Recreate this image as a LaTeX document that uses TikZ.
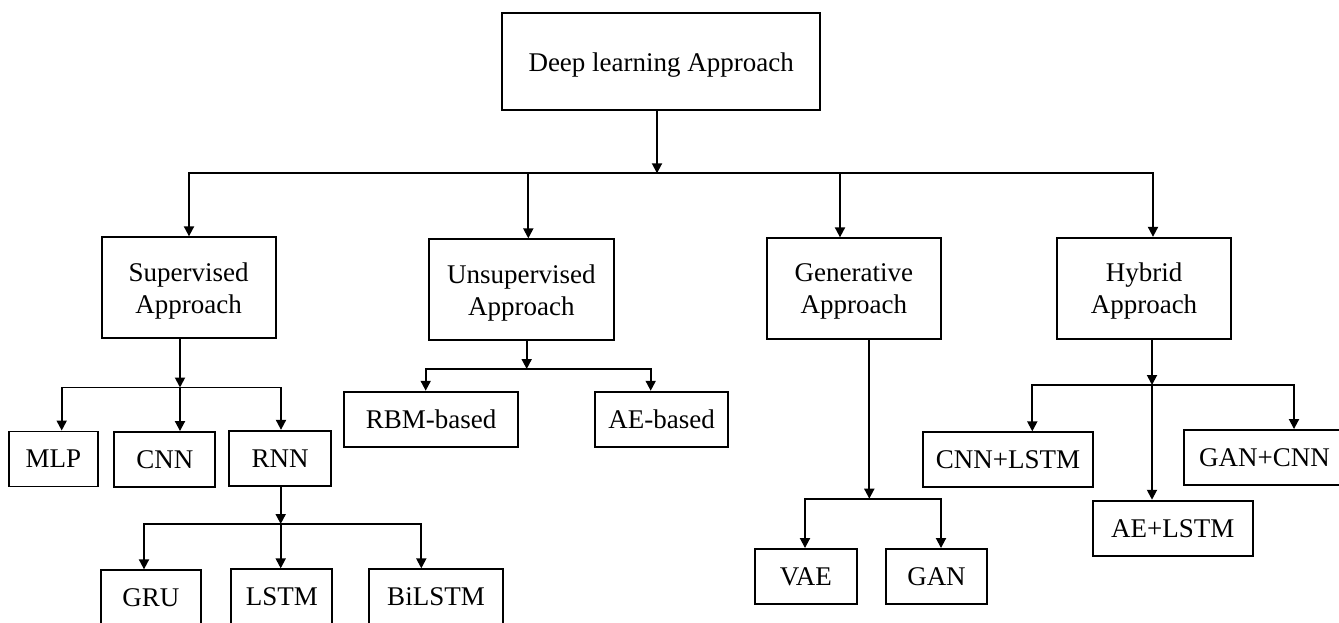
\documentclass[tikz,border=0pt]{standalone}
\usepackage{fontspec}
\setmainfont{Liberation Serif}
\usetikzlibrary{arrows.meta}
\begin{document}
\begin{tikzpicture}[x=1pt,y=-1pt,
  every node/.style={font=\fontsize{27}{32}\selectfont},
  box/.style={draw, line width=1.9pt, inner sep=0pt, text depth=0pt,
              align=center, minimum height=55pt},
  tall/.style={box, minimum height=101pt},
  link/.style={line width=1.9pt},
  arr/.style={link, -{Triangle[length=10pt,width=10pt]}},
]
\useasboundingbox (0,0) rectangle (1339,623);
\clip (0,0) rectangle (1339,623);

% ---- boxes ----
\node[tall, minimum height=96.7pt, minimum width=317.7pt] (root) at (661.2,61.7) {Deep learning Approach};

\node[tall, minimum width=174pt]   (sup) at (188.7,287.8) {Supervised\\Approach};
\node[tall, minimum width=184.7pt] (uns) at (521.4,289.8) {Unsupervised\\Approach};
\node[tall, minimum width=174.3pt] (gen) at (853.8,288.8) {Generative\\Approach};
\node[tall, minimum width=174pt]   (hyb) at (1144,288.3)  {Hybrid\\Approach};

\node[box, minimum width=88.4pt]  (mlp)  at (53.5,459)    {MLP};
\node[box, minimum width=101pt]   (cnn)  at (164.8,459.5) {CNN};
\node[box, minimum width=101.4pt] (rnn)  at (280,458.3)   {RNN};

\node[box, minimum width=100.3pt] (gru)  at (150.8,597.8) {GRU};
\node[box, minimum width=101pt]   (lstm) at (281.8,596.8) {LSTM};
\node[box, minimum width=134pt]   (bil)  at (436,596.8)   {BiLSTM};

\node[box, minimum width=174.3pt] (rbm) at (431.2,419.2) {RBM-based};
\node[box, minimum width=133.3pt] (ae)  at (661.7,419.2) {AE-based};

\node[box, minimum width=101.7pt] (vae) at (805.8,576.5) {VAE};
\node[box, minimum width=101pt]   (gan) at (936.5,576.5) {GAN};

\node[box, minimum width=170.6pt] (cnnlstm) at (1008,459.8)   {CNN+LSTM};
\node[box, minimum width=160pt]   (aelstm)  at (1172.7,528.2) {AE+LSTM};
\node[box, minimum width=160.6pt] (gancnn)  at (1264.6,457.5) {GAN+CNN};

% ---- junction points ----
\coordinate (j0) at (657,173.3);
\coordinate (b1) at (189,173.3);
\coordinate (b2) at (528.3,173.3);
\coordinate (b3) at (840,173.3);
\coordinate (b4) at (1153,173.3);

\coordinate (s0) at (180,387.5);
\coordinate (s1) at (61.7,387.5);
\coordinate (s3) at (281,387.5);

\coordinate (r0) at (280.7,524);
\coordinate (r1) at (144,524);
\coordinate (r3) at (421.3,524);

\coordinate (u0) at (526.7,369);
\coordinate (u1) at (425.7,369);
\coordinate (u2) at (650.7,369);

\coordinate (g0) at (869.3,498.7);
\coordinate (g1) at (805,498.7);
\coordinate (g2) at (941,498.7);

\coordinate (h0) at (1152,385);
\coordinate (h1) at (1032.3,385);
\coordinate (h3) at (1294,385);

% ---- top level ----
\draw[arr] (root.south -| j0) -- (j0);
\draw[arr] (b2) -- (b1) -- (b1 |- sup.north);
\draw[arr] (b2) -- (b4) -- (b4 |- hyb.north);
\draw[arr] (b2) -- (b2 |- uns.north);
\draw[arr] (b3) -- (b3 |- gen.north);

% ---- supervised ----
\draw[arr] (sup.south -| s0) -- (s0);
\draw[arr] (s0) -- (s1) -- (s1 |- mlp.north);
\draw[arr] (s0) -- (s3) -- (s3 |- rnn.north);
\draw[arr] (s0) -- (s0 |- cnn.north);

% ---- recurrent ----
\draw[arr] (rnn.south -| r0) -- (r0);
\draw[arr] (r0) -- (r1) -- (r1 |- gru.north);
\draw[arr] (r0) -- (r3) -- (r3 |- bil.north);
\draw[arr] (r0) -- (r0 |- lstm.north);

% ---- unsupervised ----
\draw[arr] (uns.south -| u0) -- (u0);
\draw[arr] (u0) -- (u1) -- (u1 |- rbm.north);
\draw[arr] (u0) -- (u2) -- (u2 |- ae.north);

% ---- generative ----
\draw[arr] (gen.south -| g0) -- (g0);
\draw[arr] (g0) -- (g1) -- (g1 |- vae.north);
\draw[arr] (g0) -- (g2) -- (g2 |- gan.north);

% ---- hybrid ----
\draw[arr] (hyb.south -| h0) -- (h0);
\draw[arr] (h0) -- (h1) -- (h1 |- cnnlstm.north);
\draw[arr] (h0) -- (h3) -- (h3 |- gancnn.north);
\draw[arr] (h0) -- (h0 |- aelstm.north);
\end{tikzpicture}
\end{document}
